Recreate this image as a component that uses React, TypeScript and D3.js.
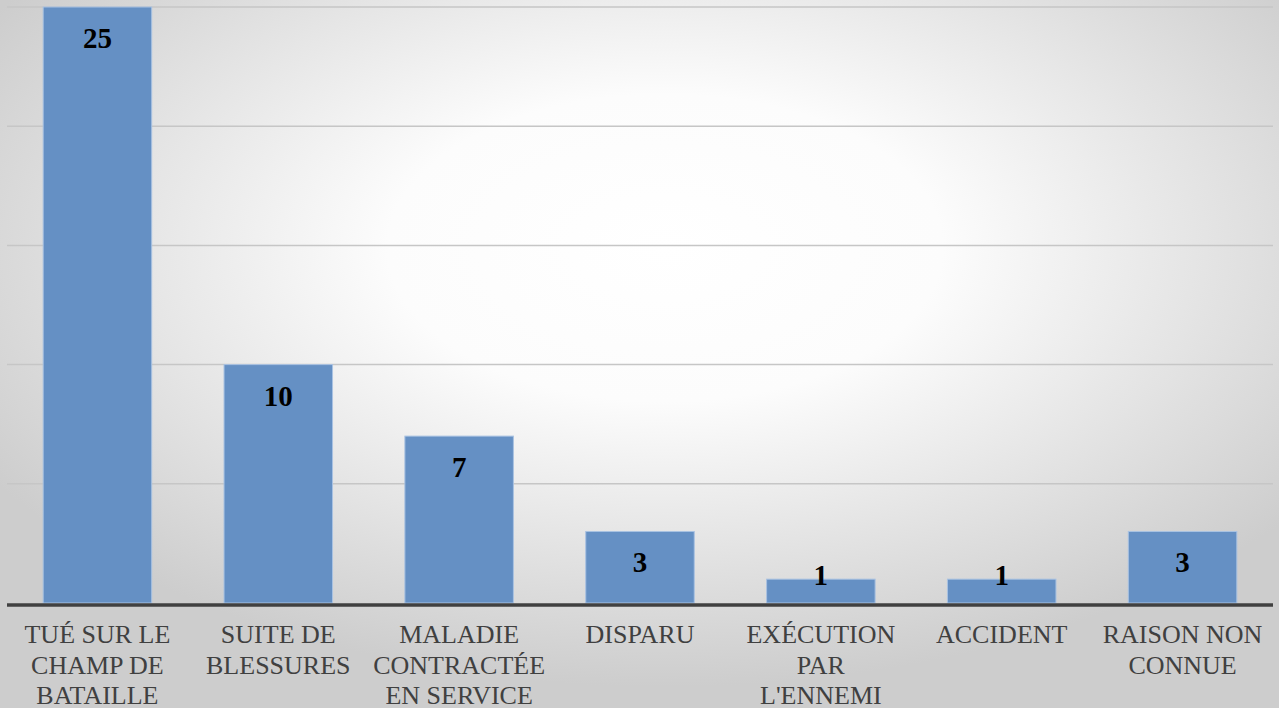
import React from "react";
import * as d3 from "d3";

const categories: string[][] = [
  ["TUÉ SUR LE", "CHAMP DE", "BATAILLE"],
  ["SUITE DE", "BLESSURES"],
  ["MALADIE", "CONTRACTÉE", "EN SERVICE"],
  ["DISPARU"],
  ["EXÉCUTION", "PAR", "L'ENNEMI"],
  ["ACCIDENT"],
  ["RAISON NON", "CONNUE"],
];
const values: number[] = [25, 10, 7, 3, 1, 1, 3];
const gridTicks: number[] = [5, 10, 15, 20, 25];

const W = 1279;
const H = 708;

export default function App() {
  const keys = categories.map((c) => c.join(" "));
  const x = d3.scaleBand<string>().domain(keys).range([7, 1273]).paddingInner(0.4).paddingOuter(0.2);
  const y = d3.scaleLinear().domain([0, 25]).range([603, 7]);
  const font = "Liberation Serif";
  return (
    <svg
      width={W}
      height={H}
      style={{ position: "absolute", left: 0, top: 0, display: "block" }}
    >
      <defs>
        <radialGradient id="bg" cx="52%" cy="35%" r="62%" fx="52%" fy="35%">
          <stop offset="0%" stopColor="#ffffff" />
          <stop offset="35%" stopColor="#fcfcfc" />
          <stop offset="100%" stopColor="#cdcdcd" />
        </radialGradient>
      </defs>
      <rect x={0} y={0} width={W} height={H} fill="url(#bg)" />
      {gridTicks.map((t) => (
        <line key={t} x1={7} x2={1273} y1={y(t)} y2={y(t)} stroke="#c6c6c6" strokeWidth={1.5} />
      ))}
      {values.map((v, i) => {
        const k = keys[i];
        const bx = x(k)!;
        const bw = x.bandwidth();
        const top = y(v);
        const base = y(0);
        const ly = Math.min(top + 41, base - 18);
        return (
          <g key={k}>
            <rect x={bx} y={top} width={bw} height={base - top} fill="#6590c4" stroke="#a9c2e2" strokeWidth={1} />
            <text
              x={bx + bw / 2}
              y={ly}
              textAnchor="middle"
              fontFamily={font}
              fontWeight="bold"
              fontSize={29}
              fill="#000"
            >
              {v}
            </text>
          </g>
        );
      })}
      <line x1={7} x2={1273} y1={605} y2={605} stroke="#404040" strokeWidth={3.5} />
      {categories.map((lines, i) => {
        const k = keys[i];
        const cx = x(k)! + x.bandwidth() / 2;
        return (
          <text key={k} textAnchor="middle" fontFamily={font} fontSize={26} fill="#404040">
            {lines.map((ln, j) => (
              <tspan key={j} x={cx} y={643 + j * 30.5}>
                {ln}
              </tspan>
            ))}
          </text>
        );
      })}
    </svg>
  );
}
